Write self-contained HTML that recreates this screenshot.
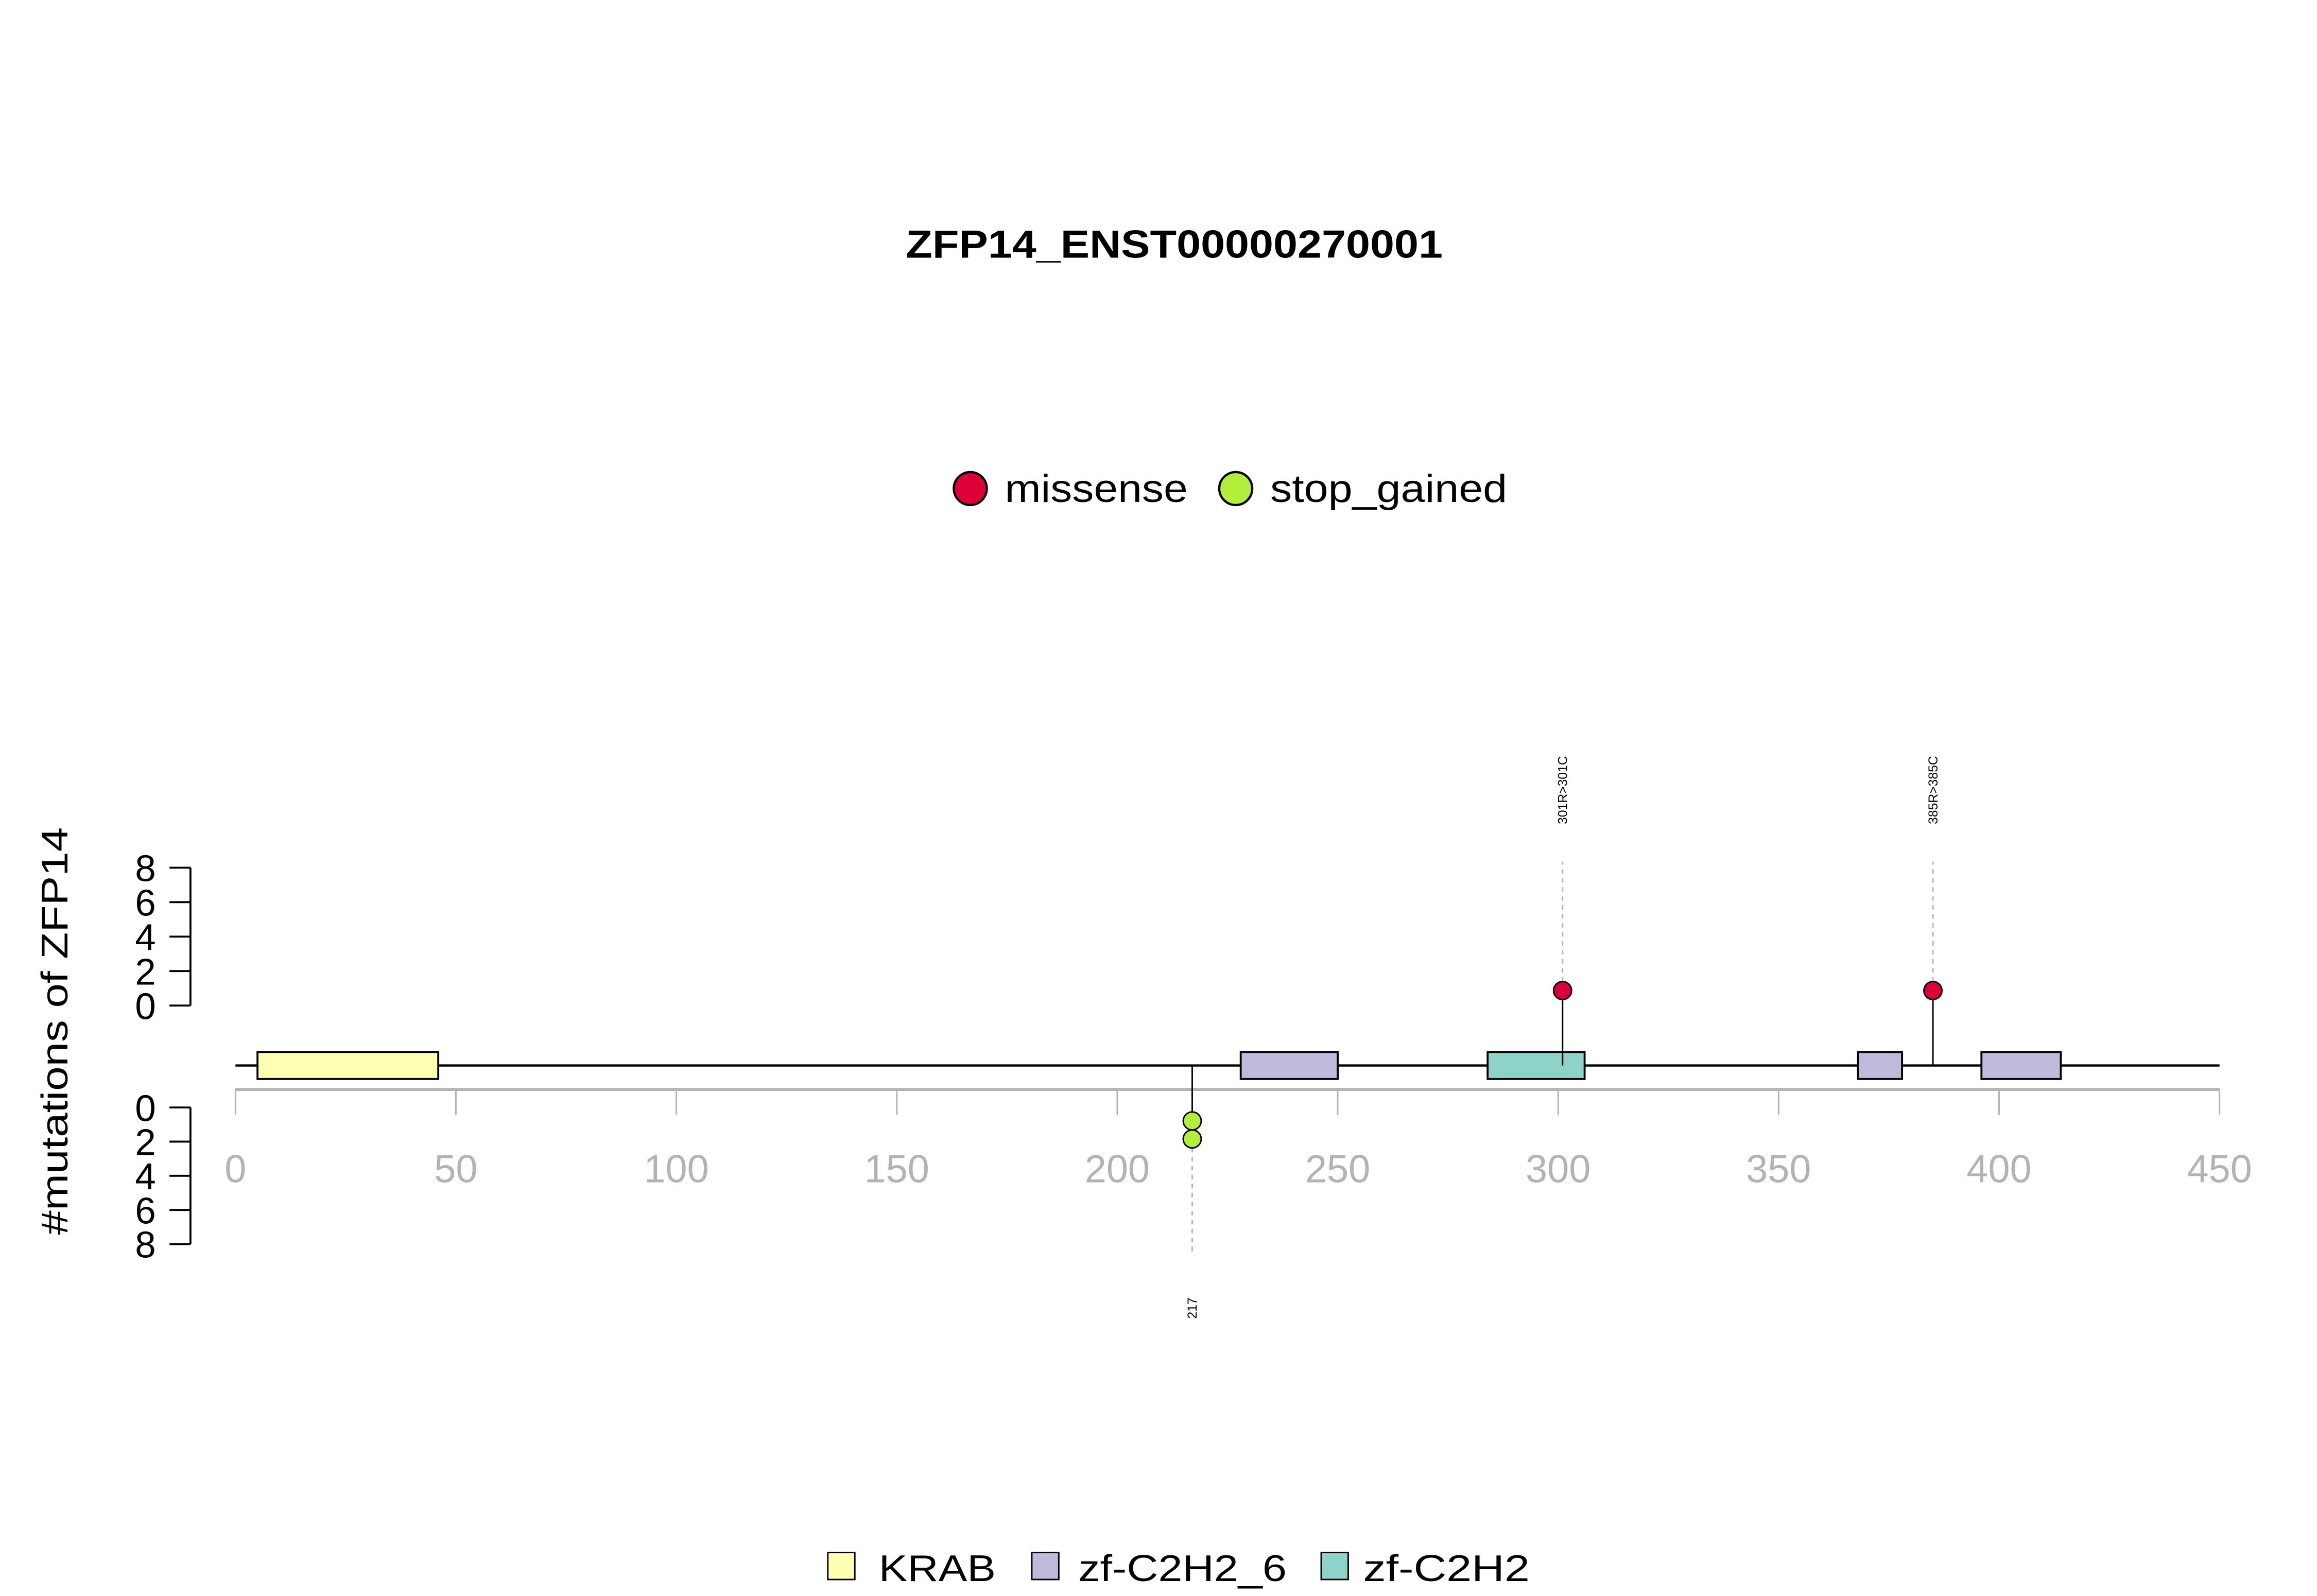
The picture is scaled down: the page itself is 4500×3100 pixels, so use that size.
<!DOCTYPE html>
<html><head><meta charset="utf-8"><style>
html,body{margin:0;padding:0;background:#fff;}
svg{display:block;font-family:"Liberation Sans",Arial,sans-serif;}
</style></head><body>
<svg id="chart" width="4500" height="3100" viewBox="0 0 1545 1065" preserveAspectRatio="none" xmlns="http://www.w3.org/2000/svg">
<text x="783" y="172" text-anchor="middle" font-weight="bold" font-size="26" textLength="358" lengthAdjust="spacingAndGlyphs">ZFP14_ENST00000270001</text>
<g>
<circle cx="647" cy="326" r="11" fill="#DC0038" stroke="#000" stroke-width="1.5"/>
<text x="670" y="335" font-size="26" textLength="122" lengthAdjust="spacingAndGlyphs">missense</text>
<circle cx="824" cy="326" r="11" fill="#B3EE3A" stroke="#000" stroke-width="1.5"/>
<text x="847" y="335" font-size="26" textLength="158" lengthAdjust="spacingAndGlyphs">stop_gained</text>
</g>
<text transform="translate(45,688) rotate(-90)" text-anchor="middle" font-size="25" textLength="272" lengthAdjust="spacingAndGlyphs">#mutations of ZFP14</text>
<g id="plot"></g>
<g>
<rect x="552" y="1036" width="18" height="18" fill="#FFFFB3" stroke="#000"/>
<text x="586" y="1055" font-size="25" textLength="78" lengthAdjust="spacingAndGlyphs">KRAB</text>
<rect x="688" y="1036" width="18" height="18" fill="#BEBADA" stroke="#000"/>
<text x="719" y="1055" font-size="25" textLength="139" lengthAdjust="spacingAndGlyphs">zf-C2H2_6</text>
<rect x="881" y="1036" width="18" height="18" fill="#8DD3C7" stroke="#000"/>
<text x="909" y="1055" font-size="25" textLength="111" lengthAdjust="spacingAndGlyphs">zf-C2H2</text>
</g>
</svg>
<script>
const xTicks = [0,50,100,150,200,250,300,350,400,450];
const yTicks = [0,2,4,6,8];
const domainNames = ["KRAB","zf-C2H2_6","zf-C2H2","zf-C2H2_6","zf-C2H2_6"];
const domainStarts = [5,228,284,368,396];
const domainEnds = [46,250,306,378,414];
const domainColors = {"KRAB":"#FFFFB3","zf-C2H2_6":"#BEBADA","zf-C2H2":"#8DD3C7"};
const upPositions = [301,385];
const upCounts = [1,1];
const upLabels = ["301R>301C","385R>385C"];
const downPositions = [217];
const downCounts = [2];
const downLabels = ["217"];

const NS = "http://www.w3.org/2000/svg";
const g = document.getElementById("plot");
const X = v => 157 + v * (1480 - 157) / 450;
const YU = v => 671 - v * 11.5;
const YD = v => 739 + v * 11.4;
function mk(tag, attrs, txt){ const e=document.createElementNS(NS,tag); for(const k in attrs) e.setAttribute(k,attrs[k]); if(txt!==undefined) e.textContent=txt; g.appendChild(e); return e; }

// upper y axis
let e = mk("line",{x1:127,y1:YU(0),x2:127,y2:YU(8),stroke:"#000","stroke-width":1.3});


yTicks.forEach(t=>{
  let l = mk("line",{x1:113,y1:YU(t),x2:127,y2:YU(t),stroke:"#000","stroke-width":1.3});
  
  
  let tx = mk("text",{x:97,y:YU(t)+9,"text-anchor":"middle","font-size":25},String(t));
  
  
});
// lower y axis
e = mk("line",{x1:127,y1:YD(0),x2:127,y2:YD(8),stroke:"#000","stroke-width":1.3});


yTicks.forEach(t=>{
  let l = mk("line",{x1:113,y1:YD(t),x2:127,y2:YD(t),stroke:"#000","stroke-width":1.3});
  
  
  let tx = mk("text",{x:97,y:YD(t)+9,"text-anchor":"middle","font-size":25},String(t));
  
  
});
// x axis
e = mk("line",{x1:X(0),y1:727,x2:X(450),y2:727,stroke:"#b3b3b3","stroke-width":2});


xTicks.forEach(t=>{
  let l = mk("line",{x1:X(t),y1:727,x2:X(t),y2:744,stroke:"#b3b3b3","stroke-width":1});
  
  
  let tx = mk("text",{x:X(t),y:789,"text-anchor":"middle","font-size":26,fill:"#b3b3b3"},String(t));
  
  
});
// backbone
e = mk("line",{x1:X(0),y1:711,x2:X(450),y2:711,stroke:"#000","stroke-width":1.5});


// domains
domainNames.forEach((n,i)=>{
  let r = mk("rect",{x:X(domainStarts[i]),y:702,width:X(domainEnds[i])-X(domainStarts[i]),height:18,fill:domainColors[n],stroke:"#000","stroke-width":1.3});
  
  
});
// upper lollipops
upPositions.forEach((p,i)=>{
  const x = X(p);
  const top = YU(0) - 10 - (upCounts[i]-1)*12;
  let d = mk("line",{x1:x,y1:top-6,x2:x,y2:575,stroke:"#b3b3b3","stroke-width":1,"stroke-dasharray":"3,3"});
  
  
  let s = mk("line",{x1:x,y1:711,x2:x,y2:top,stroke:"#000","stroke-width":1});
  
  
  for(let k=0;k<upCounts[i];k++){
    let c = mk("circle",{cx:x,cy:YU(0)-10-k*12,r:6,fill:"#DC0038",stroke:"#000","stroke-width":1});
    
    
  }
  let t = mk("text",{transform:`translate(${x+3},550) rotate(-90)`,"font-size":8.5},upLabels[i]);
  
  
});
// lower lollipops
downPositions.forEach((p,i)=>{
  const x = X(p);
  const bot = YD(0) + 9 + (downCounts[i]-1)*12;
  let d = mk("line",{x1:x,y1:bot+6,x2:x,y2:838,stroke:"#b3b3b3","stroke-width":1,"stroke-dasharray":"3,3"});
  
  
  let s = mk("line",{x1:x,y1:711,x2:x,y2:bot,stroke:"#000","stroke-width":1});
  
  
  for(let k=0;k<downCounts[i];k++){
    let c = mk("circle",{cx:x,cy:YD(0)+9+k*12,r:6,fill:"#B3EE3A",stroke:"#000","stroke-width":1});
    
    
  }
  let t = mk("text",{transform:`translate(${x+3},880) rotate(-90)`,"font-size":8.5},downLabels[i]);
  
  
});
</script>
</body></html>
